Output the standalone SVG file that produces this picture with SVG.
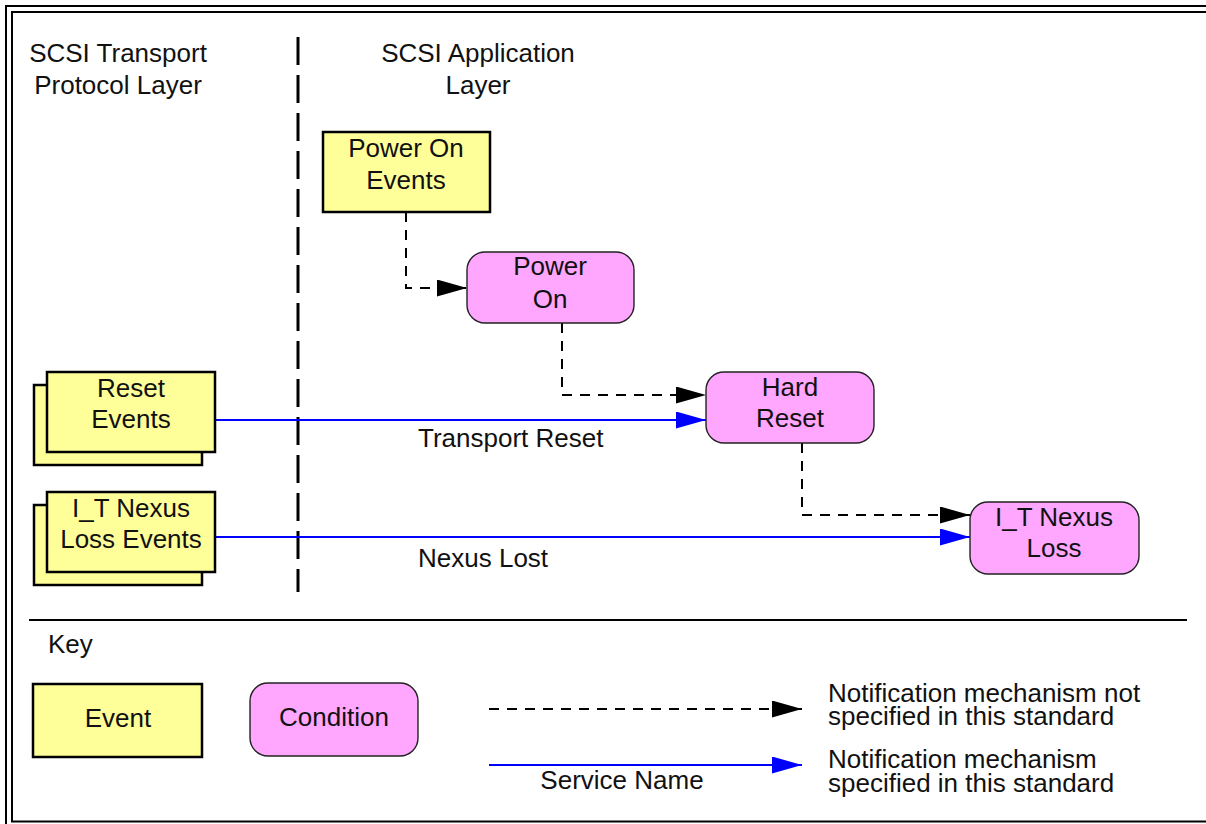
<svg xmlns="http://www.w3.org/2000/svg" width="1206" height="824" viewBox="0 0 1206 824">
<style>
text{font-family:"Liberation Sans",Arial,Helvetica,sans-serif;font-size:26px;fill:#111}
.c{text-anchor:middle}
.ev{fill:#ffff99;stroke:#000;stroke-width:2.5}
.cond{fill:#ffa6ff;stroke:#222;stroke-width:1.4}
.dash{fill:none;stroke:#000;stroke-width:2;stroke-dasharray:10 8}
.svc{fill:none;stroke:#0000ff;stroke-width:2}
.frame{fill:none;stroke:#000;stroke-width:2}
</style>
<defs>
<marker id="ak" markerUnits="userSpaceOnUse" markerWidth="30" markerHeight="17" refX="30" refY="8.5" orient="auto" viewBox="0 0 30 17"><path d="M0,0 L30,8.5 L0,17z" fill="#000"/></marker>
<marker id="ab" markerUnits="userSpaceOnUse" markerWidth="30" markerHeight="17" refX="30" refY="8.5" orient="auto" viewBox="0 0 30 17"><path d="M0,0 L30,8.5 L0,17z" fill="#0000ff"/></marker>
</defs>
<rect width="1206" height="824" fill="#fff"/>
<g id="frame">
<rect class="frame" x="6" y="6" width="1220" height="840"/>
<rect class="frame" x="12" y="12" width="1210" height="809.5"/>
<line x1="298" y1="37" x2="298" y2="592" stroke="#000" stroke-width="3" stroke-dasharray="28 10"/>
<line x1="29" y1="620" x2="1187" y2="620" stroke="#000" stroke-width="2"/>
</g>
<g id="headers">
<text class="c" x="118" y="62">SCSI Transport</text>
<text class="c" x="118" y="94">Protocol Layer</text>
<text class="c" x="478" y="62">SCSI Application</text>
<text class="c" x="478" y="94">Layer</text>
</g>
<g id="connectors">
<path class="dash" d="M406,212 V288 H467" marker-end="url(#ak)"/>
<path class="dash" d="M562,323 V395 H706" marker-end="url(#ak)"/>
<path class="dash" d="M802,443 V515 H970" marker-end="url(#ak)"/>
<path class="svc" d="M215,420 H706" marker-end="url(#ab)"/>
<path class="svc" d="M215,537 H970" marker-end="url(#ab)"/>
<text x="418" y="447">Transport Reset</text>
<text x="418" y="567">Nexus Lost</text>
</g>
<g id="power-on-events">
<rect class="ev" x="323" y="132" width="167" height="80"/>
<text class="c" x="406" y="157">Power On</text>
<text class="c" x="406" y="189">Events</text>
</g>
<g id="power-on">
<rect class="cond" x="467" y="252" width="167" height="71" rx="18"/>
<text class="c" x="550" y="275">Power</text>
<text class="c" x="550" y="308">On</text>
</g>
<g id="reset-events">
<rect class="ev" x="34" y="385" width="168" height="80"/>
<rect class="ev" x="47" y="372" width="168" height="80"/>
<text class="c" x="131" y="397">Reset</text>
<text class="c" x="131" y="428">Events</text>
</g>
<g id="hard-reset">
<rect class="cond" x="706" y="372" width="168" height="71" rx="18"/>
<text class="c" x="790" y="396">Hard</text>
<text class="c" x="790" y="427">Reset</text>
</g>
<g id="it-nexus-loss-events">
<rect class="ev" x="34" y="505" width="168" height="80"/>
<rect class="ev" x="47" y="492" width="168" height="80"/>
<text class="c" x="131" y="517">I_T Nexus</text>
<text class="c" x="131" y="548">Loss Events</text>
</g>
<g id="it-nexus-loss">
<rect class="cond" x="970" y="502" width="169" height="72" rx="18"/>
<text class="c" x="1054" y="526">I_T Nexus</text>
<text class="c" x="1054" y="557">Loss</text>
</g>
<g id="key">
<text x="48" y="653">Key</text>
<rect class="ev" x="33" y="684" width="169" height="73"/>
<text class="c" x="118" y="727">Event</text>
<rect class="cond" x="250" y="683" width="168" height="73" rx="18"/>
<text class="c" x="334" y="726">Condition</text>
<path class="dash" d="M489,709 H802" marker-end="url(#ak)"/>
<path class="svc" d="M489,765 H802" marker-end="url(#ab)"/>
<text class="c" x="622" y="789">Service Name</text>
<text x="828" y="702">Notification mechanism not</text>
<text x="828" y="725">specified in this standard</text>
<text x="828" y="768">Notification mechanism</text>
<text x="828" y="792">specified in this standard</text>
</g>
</svg>
